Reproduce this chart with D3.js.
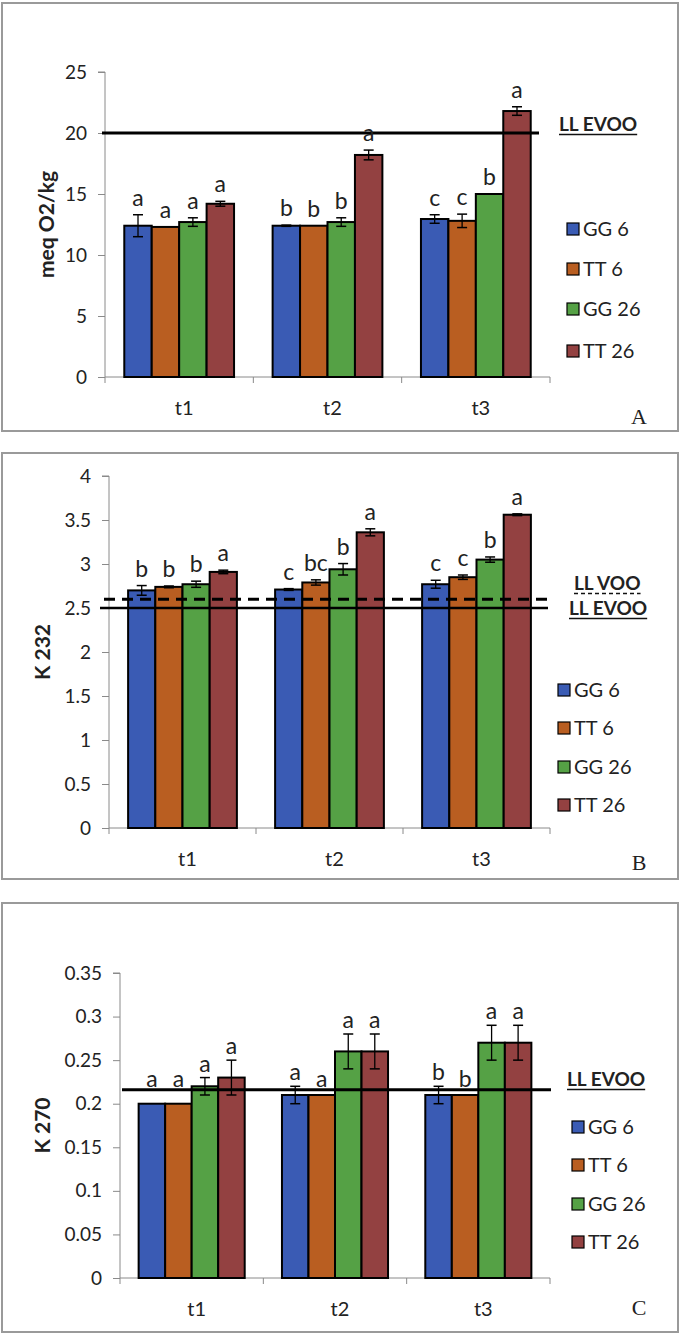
<!DOCTYPE html>
<html>
<head>
<meta charset="utf-8">
<script src="https://cdn.jsdelivr.net/npm/d3@7"></script>
<style>
  html, body { margin: 0; padding: 0; background: #fff; }
  svg { display: block; }
  text { font-family: Lato, "Open Sans", sans-serif; fill: #222; }
</style>
</head>
<body>
<svg id="chart" width="680" height="1334"></svg>
<script>
// ---------- DATA ----------
const categories = ["t1", "t2", "t3"];
const seriesNames = ["GG 6", "TT 6", "GG 26", "TT 26"];
const seriesColors = ["#3A5BB4", "#B95E21", "#55A145", "#934141"];

// Panel A: peroxide value (rows = series, columns = t1,t2,t3)
const peroxideMean = [
  [12.4, 12.4, 12.95],
  [12.3, 12.4, 12.8],
  [12.7, 12.7, 15.0],
  [14.2, 18.2, 21.8]
];
const peroxideErr = [
  [0.9, 0.05, 0.35],
  [0, 0, 0.55],
  [0.35, 0.35, 0],
  [0.2, 0.4, 0.35]
];
const peroxideLetters = [
  ["a", "b", "c"],
  ["a", "b", "c"],
  ["a", "b", "b"],
  ["a", "a", "a"]
];
const peroxideTicks = [0, 5, 10, 15, 20, 25];
const peroxideLimitValues = [20];
const peroxideLimitNames = ["LL EVOO"];

// Panel B: K 232
const k232Mean = [
  [2.70, 2.71, 2.77],
  [2.74, 2.79, 2.85],
  [2.77, 2.94, 3.05],
  [2.91, 3.36, 3.56]
];
const k232Err = [
  [0.055, 0.01, 0.045],
  [0.01, 0.03, 0.025],
  [0.035, 0.065, 0.03],
  [0.02, 0.04, 0.01]
];
const k232Letters = [
  ["b", "c", "c"],
  ["b", "bc", "c"],
  ["b", "b", "b"],
  ["a", "a", "a"]
];
const k232Ticks = [0, 0.5, 1, 1.5, 2, 2.5, 3, 3.5, 4];
const k232LimitValues = [2.6, 2.5];
const k232LimitNames = ["LL VOO", "LL EVOO"];

// Panel C: K 270
const k270Mean = [
  [0.20, 0.21, 0.21],
  [0.20, 0.21, 0.21],
  [0.22, 0.26, 0.27],
  [0.23, 0.26, 0.27]
];
const k270Err = [
  [0, 0.01, 0.01],
  [0, 0, 0],
  [0.01, 0.02, 0.02],
  [0.02, 0.02, 0.02]
];
const k270Letters = [
  ["a", "a", "b"],
  ["a", "a", "b"],
  ["a", "a", "a"],
  ["a", "a", "a"]
];
const k270Ticks = [0, 0.05, 0.1, 0.15, 0.2, 0.25, 0.3, 0.35];
const k270LimitValues = [0.216];
const k270LimitNames = ["LL EVOO"];

// ---------- LAYOUT (not data) ----------
const panels = [
  {
    tag: "A", title: "meq O2/kg",
    mean: peroxideMean, err: peroxideErr, letters: peroxideLetters, ticks: peroxideTicks,
    limits: peroxideLimitValues, limitNames: peroxideLimitNames,
    frame: [2, 3, 676, 428],
    x0: 105, x1: 550, yBottom: 377, yTop: 72, titleX: 47,
    letterGap: 17, avoidLines: false,
    limitStyle: [{ dash: null, w: 3, xs: 102, xe: 539, lx: 559, ly: 124 }],
    legendX: 567, legendY: [229, 269, 309, 351],
    tagPos: [639, 424]
  },
  {
    tag: "B", title: "K 232",
    mean: k232Mean, err: k232Err, letters: k232Letters, ticks: k232Ticks,
    limits: k232LimitValues, limitNames: k232LimitNames,
    frame: [2, 453, 676, 426],
    x0: 109, x1: 550, yBottom: 828, yTop: 476, titleX: 43,
    letterGap: 17, avoidLines: false,
    limitStyle: [
      { dash: "11,7", w: 3, xs: 104, xe: 548, lx: 574, ly: 583 },
      { dash: null, w: 2.5, xs: 100, xe: 548, lx: 569, ly: 608 }
    ],
    legendX: 558, legendY: [690, 728, 767, 805],
    tagPos: [639, 870]
  },
  {
    tag: "C", title: "K 270",
    mean: k270Mean, err: k270Err, letters: k270Letters, ticks: k270Ticks,
    limits: k270LimitValues, limitNames: k270LimitNames,
    frame: [2, 903, 676, 429],
    x0: 120, x1: 550, yBottom: 1278, yTop: 973, titleX: 43,
    letterGap: 14, avoidLines: true,
    limitStyle: [{ dash: null, w: 3, xs: 122, xe: 551, lx: 567, ly: 1079 }],
    legendX: 572, legendY: [1127, 1165, 1204, 1242],
    tagPos: [639, 1315]
  }
];

const svg = d3.select("#chart");

panels.forEach(p => {
  const g = svg.append("g");

  // frame
  g.append("rect")
    .attr("x", p.frame[0]).attr("y", p.frame[1])
    .attr("width", p.frame[2]).attr("height", p.frame[3])
    .attr("fill", "none").attr("stroke", "#9a9a9a").attr("stroke-width", 2);

  const yMax = p.ticks[p.ticks.length - 1];
  const y = d3.scaleLinear().domain([0, yMax]).range([p.yBottom, p.yTop]);
  const x = d3.scaleBand().domain(categories).range([p.x0, p.x1]).paddingInner(0).paddingOuter(0);
  const groupW = x.bandwidth() * 0.74;
  const xs = d3.scaleBand().domain(d3.range(seriesNames.length))
    .range([(x.bandwidth() - groupW) / 2, (x.bandwidth() + groupW) / 2]).padding(0);

  // y axis
  const yAxis = d3.axisLeft(y).tickValues(p.ticks).tickSize(7).tickPadding(11)
    .tickFormat(d => String(d));
  const ya = g.append("g").attr("transform", `translate(${p.x0},0)`).call(yAxis);
  ya.select(".domain").attr("stroke", "#8a8a8a").attr("d", `M-7,${p.yTop}H0V${p.yBottom}`);
  ya.selectAll(".tick line").attr("stroke", "#8a8a8a");
  ya.selectAll(".tick text").style("font-family", "Lato, sans-serif").style("font-size", "19px").attr("fill", "#222");

  // x axis
  const xa = g.append("g");
  xa.append("line").attr("x1", p.x0).attr("x2", p.x1)
    .attr("y1", p.yBottom).attr("y2", p.yBottom).attr("stroke", "#8a8a8a");
  const bounds = categories.map(c => x(c)).concat([x.range()[1]]);
  xa.selectAll("line.bt").data(bounds).join("line").attr("class", "bt")
    .attr("x1", d => d).attr("x2", d => d)
    .attr("y1", p.yBottom).attr("y2", p.yBottom + 6).attr("stroke", "#8a8a8a");
  xa.selectAll("text.cat").data(categories).join("text").attr("class", "cat")
    .attr("x", d => x(d) + x.bandwidth() / 2 + 5)
    .attr("y", p.yBottom + 31).attr("dy", "0.35em")
    .attr("text-anchor", "middle").style("font-size", "20px").text(d => d);

  // y title
  g.append("text")
    .attr("transform", `translate(${p.titleX},${(p.yTop + p.yBottom) / 2}) rotate(-90)`)
    .attr("text-anchor", "middle").attr("dy", "0.35em")
    .style("font-size", "21px").style("font-weight", "bold").text(p.title);

  // bars
  const barData = [];
  p.mean.forEach((row, si) => row.forEach((v, ci) => {
    barData.push({ si, ci, v, e: p.err[si][ci], l: p.letters[si][ci] });
  }));
  const bx = d => x(categories[d.ci]) + xs(d.si);
  g.selectAll("rect.bar").data(barData).join("rect").attr("class", "bar")
    .attr("x", bx).attr("width", xs.bandwidth())
    .attr("y", d => y(d.v)).attr("height", d => y(0) - y(d.v))
    .attr("fill", d => seriesColors[d.si])
    .attr("stroke", "#000").attr("stroke-width", 2);

  // error bars
  const eb = g.selectAll("g.err").data(barData.filter(d => d.e > 0)).join("g").attr("class", "err");
  const cx = d => bx(d) + xs.bandwidth() / 2;
  eb.append("line").attr("x1", cx).attr("x2", cx)
    .attr("y1", d => y(d.v + d.e)).attr("y2", d => y(d.v - d.e))
    .attr("stroke", "#000").attr("stroke-width", 1.3);
  [1, -1].forEach(s => {
    eb.append("line").attr("x1", d => cx(d) - 5).attr("x2", d => cx(d) + 5)
      .attr("y1", d => y(d.v + s * d.e)).attr("y2", d => y(d.v + s * d.e))
      .attr("stroke", "#000").attr("stroke-width", 1.5);
  });

  // limit lines
  p.limits.forEach((lv, i) => {
    const st = p.limitStyle[i];
    g.append("line").attr("x1", st.xs).attr("x2", st.xe)
      .attr("y1", y(lv)).attr("y2", y(lv))
      .attr("stroke", "#000").attr("stroke-width", st.w)
      .attr("stroke-dasharray", st.dash);
    const t = g.append("text").attr("x", st.lx).attr("y", st.ly).attr("dy", "0.35em")
      .style("font-size", "19px").style("font-weight", "bold").attr("fill", "#111")
      .text(p.limitNames[i]);
    const bb = t.node().getBBox();
    g.append("line").attr("x1", bb.x).attr("x2", bb.x + bb.width)
      .attr("y1", st.ly + 10.5).attr("y2", st.ly + 10.5)
      .attr("stroke", "#111").attr("stroke-width", 1.3)
      .attr("stroke-dasharray", st.dash ? "4,3" : null);
  });

  // significance letters
  const limitYs = p.limits.map(lv => y(lv));
  g.selectAll("text.sig").data(barData).join("text").attr("class", "sig")
    .attr("x", cx)
    .attr("y", d => {
      let ly = y(d.v + d.e) - p.letterGap;
      if (p.avoidLines) limitYs.forEach(L => { if (Math.abs(ly - L) < 11) ly = L - 11; });
      return ly;
    })
    .attr("dy", "0.35em").attr("text-anchor", "middle")
    .style("font-size", "23px").text(d => d.l);

  // legend
  const lg = g.selectAll("g.leg").data(seriesNames).join("g").attr("class", "leg")
    .attr("transform", (d, i) => `translate(${p.legendX},${p.legendY[i]})`);
  lg.append("rect").attr("x", 0).attr("y", -6).attr("width", 12).attr("height", 12)
    .attr("fill", (d, i) => seriesColors[i]).attr("stroke", "#000").attr("stroke-width", 1.2);
  lg.append("text").attr("x", 16).attr("y", 0).attr("dy", "0.35em")
    .style("font-size", "20px").text(d => d);

  // panel tag
  g.append("text").attr("x", p.tagPos[0]).attr("y", p.tagPos[1])
    .attr("text-anchor", "middle")
    .style("font-family", "'Liberation Serif', 'DejaVu Serif', serif")
    .style("font-size", "22px").text(p.tag);
});
</script>
</body>
</html>
